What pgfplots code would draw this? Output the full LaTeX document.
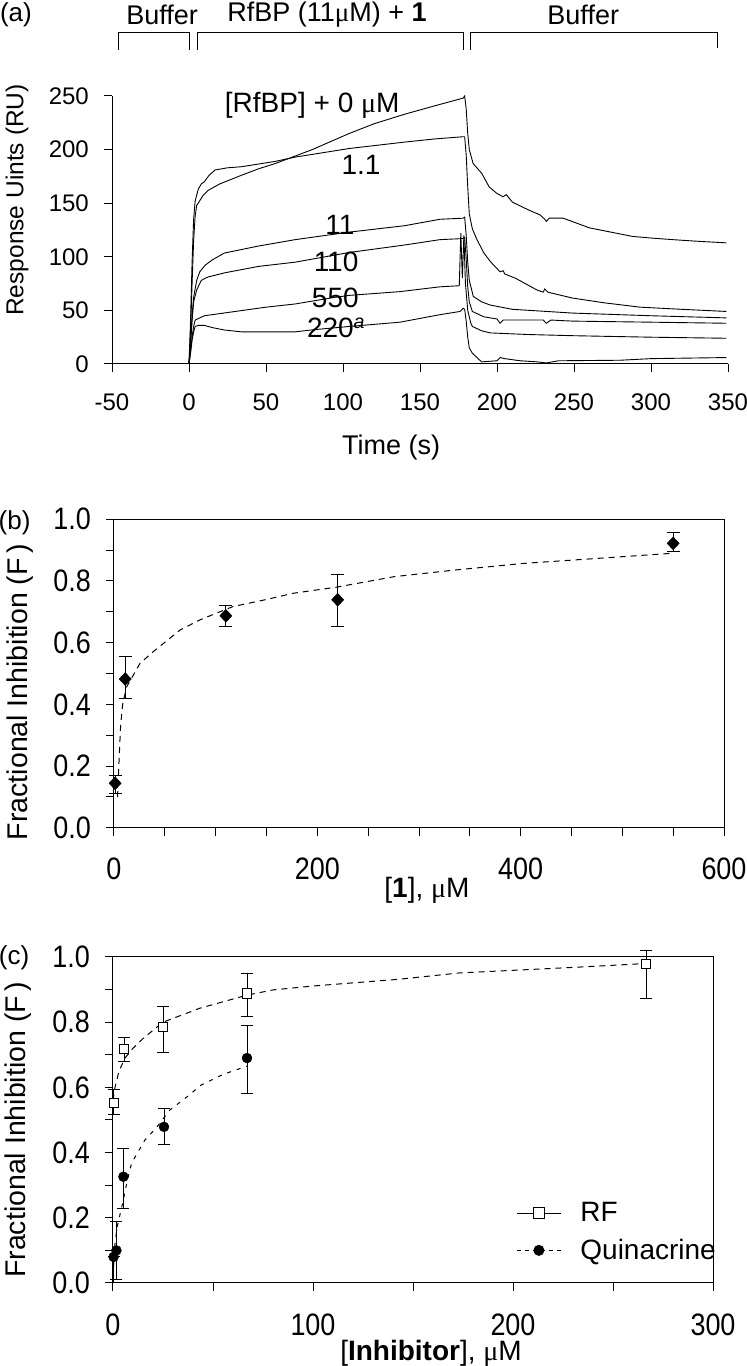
\documentclass[border=0pt]{standalone}
\usepackage{pgfplots}
\pgfplotsset{compat=1.18}
\usepackage{fontspec}
\setmainfont{Liberation Sans}
\newfontfamily\tickfont[FakeStretch=0.87]{Liberation Sans}
\newfontfamily\greekfont{Liberation Serif}
\newcommand\um{{\greekfont μ}}
\newcommand\fs[1]{\fontsize{#1pt}{#1pt}\selectfont}
\pgfplotsset{
  common/.style={
    scale only axis, clip=false,
    axis line style={-, line width=1pt},
    tick align=outside, major tick length=8pt, minor tick length=8pt,
    tick style={black, line width=1pt},
    /pgf/number format/assume math mode=true,
    xticklabel style={anchor=north, inner sep=0pt},
    yticklabel style={anchor=east, inner sep=0pt},
    label style={inner sep=0pt},
  },
  curve/.style={black, line width=0.9pt, no marks},
  fit/.style={black, line width=1pt, no marks, dash pattern=on 6pt off 5pt},
}
\begin{document}
\begin{tikzpicture}
\useasboundingbox (0,0) rectangle (747pt,1366pt);
%%%%%%%%%%%%%%%% panel (a)
\begin{axis}[common,
  at={(112pt,1002pt)}, anchor=south west,
  width=616pt, height=268pt,
  xmin=-50, xmax=350, ymin=0, ymax=250,
  axis x line*=bottom, axis y line*=left,
  xtick={-50,0,50,100,150,200,250,300,350}, ytick={0,50,100,150,200,250},
  ticklabel style={font=\fs{24}},
  xticklabel shift=22pt, yticklabel shift=15pt,
  xlabel={Time (s)}, xlabel style={at={(axis description cs:0.453,-0.31)}, anchor=center, font=\fs{27}},
  ylabel={Response Uints (RU)}, ylabel style={at={(axis description cs:-0.154,0.612)}, anchor=center, rotate=0, font=\fs{24.5}},
]
\addplot[curve] coordinates {(0,0)(1,30)(2,75)(3,115)(4,138)(5,148)(6,150)(9,157)(12.5,162)(20,168)(34,176)(45,182)(56,187)(69,194)(80,200)(104,215)(120,224)(140,233)(160,241)(178,248)(179,250)(180,238)(181,215)(182,200)(184.5,187)(190,178)(195,165)(200,159)(204,156)(206,158)(210,151)(220,144)(228,139)(231,135)(232,133)(234,136)(243,136)(260,127)(288,119)(300,117.5)(314,116)(330,114.5)(349,113)};
\addplot[curve] coordinates {(0,0)(1,40)(2,95)(3,135)(4,152)(6,163)(8,168)(10,170)(13,176)(17,181)(25,183)(34,184)(56,189)(69,193)(104,201)(140,207)(160,210)(178,212)(179,212)(180,195)(181,165)(182,140)(184,126)(187,116)(191.5,103.5)(196,95)(202,86)(204,87)(205,84)(212,80)(226,69)(230,67)(231,70)(233,67)(249,61.5)(270,57)(293,53)(320,51)(349,49)};
\addplot[curve] coordinates {(0,0)(1,20)(2,45)(3,62)(5,78)(7,86)(10.4,92)(15,97)(23,103.5)(45,110)(69,116)(104,123)(140,129)(163,135)(178,136)(179,137)(180,120)(181,95)(182,78)(184.6,63)(190,58)(195.5,55)(210,51)(249,47.5)(300,45)(349,43)};
\addplot[curve] coordinates {(0,0)(1,18)(2,40)(3,58)(5,69)(8,78)(12,81)(23,85)(45,91)(69,95)(104,104)(140,111)(163,116)(178,117)(179,118)(180,98)(181,72)(182,58)(184,49)(191.5,44)(200,42)(202,38)(204,41)(230,41)(232,38)(235,41)(249,40)(300,39)(349,38)};
\addplot[curve] coordinates {(0,0)(1,12)(2,25)(3,35)(4,41)(10,45)(30,49)(50,53)(69,56)(94,62)(104,64)(137,67.5)(163,72)(175.5,73)(176.5,122)(177.5,80)(178.5,120)(179.5,75)(181,50)(183,38)(184,35)(190,31)(195.5,29)(220,27.5)(249,26.4)(300,25)(349,24)};
\addplot[curve] coordinates {(0,0)(1,10)(2,22)(3,30)(4,35)(6,36)(10,36)(15,34)(23,31.7)(34,30)(69,30)(81,32)(104,35)(137,39)(163,46)(176,49)(178,52)(179,51)(180,40)(181,25)(182,15)(184,10)(190,2)(200,3)(202,6)(205,5)(215,3)(226,2)(232,1)(240,3)(280,3.5)(300,5)(349,6)};
% curve labels
\node[font=\fs{28}] at (axis cs:80,241.6) {[RfBP] + 0 \um M};
\node[font=\fs{28}] at (axis cs:111.7,185.6) {1.1};
\node[font=\fs{28}] at (axis cs:98,129.7) {11};
\node[font=\fs{28}] at (axis cs:95.5,95.4) {110};
\node[font=\fs{28}] at (axis cs:95,61.5) {550};
\node[font=\fs{28}] at (axis cs:95.5,33.6) {220\textsuperscript{\itshape a}};
% injection brackets
\draw[line width=1pt] (axis cs:-46.1,293) -- (axis cs:-46.1,308.8) -- (axis cs:0.6,308.8) -- (axis cs:0.6,293);
\draw[line width=1pt] (axis cs:5.8,293) -- (axis cs:5.8,308.8) -- (axis cs:178,308.8) -- (axis cs:178,293);
\draw[line width=1pt] (axis cs:182.5,293) -- (axis cs:182.5,308.8) -- (axis cs:343,308.8) -- (axis cs:343,295);
\node[font=\fs{27}] at (axis cs:-17.5,325.6) {Buffer};
\node[font=\fs{27}] at (axis cs:89.6,325.6) {RfBP (11\um M) + \textbf{1}};
\node[font=\fs{27}] at (axis cs:256,325.6) {Buffer};
\node[font=\fs{26}] at (axis description cs:-0.156,1.302) {(a)};
\end{axis}
%%%%%%%%%%%%%%%% panel (b)
\begin{axis}[common,
  at={(114pt,538.3pt)}, anchor=south west,
  width=610pt, height=308.4pt,
  xmin=0, xmax=600, ymin=0, ymax=1,
  xtick={0,200,400,600}, minor xtick={50,100,150,250,300,350,450,500,550},
  ytick={0,0.2,0.4,0.6,0.8,1}, minor ytick={0.1,0.3,0.5,0.7,0.9},
  xtick pos=left, ytick pos=left,
  ticklabel style={font=\tickfont\fs{31}},
  yticklabel style={/pgf/number format/.cd, fixed, fixed zerofill, precision=1},
  xticklabel shift=22pt, yticklabel shift=15pt,
  xlabel={[\textbf{1}], \um M}, xlabel style={at={(axis description cs:0.513,-0.202)}, anchor=center, font=\fs{28}},
  ylabel={Fractional Inhibition (F\,)}, ylabel style={at={(axis description cs:-0.154,0.44)}, anchor=center, font=\fs{28.5}},
]
\addplot[fit] coordinates {(3.5,0.10)(5,0.22)(6.5,0.33)(8.5,0.40)(12.5,0.457)(25.6,0.533)(38.7,0.571)(65,0.641)(84.6,0.674)(117,0.717)(150,0.74)(176,0.76)(219,0.78)(275.6,0.814)(337,0.836)(403,0.857)(479,0.874)(550,0.89)};
\addplot[black, only marks, mark=diamond*, mark size=6.5pt, mark options={xscale=1.25},
  error bars/.cd, y dir=both, y explicit,
  error bar style={line width=1pt, black},
  error mark options={rotate=90, mark size=6.5pt, line width=1pt, black}]
  coordinates {
  (1.1,0.144) += (0,0.025) -= (0,0.032)
  (11,0.482) += (0,0.073) -= (0,0.062)
  (110,0.687) += (0,0.032) -= (0,0.035)
  (220,0.739) += (0,0.081) -= (0,0.087)
  (550,0.922) += (0,0.035) -= (0,0.027)
  };
\node[font=\fs{26}] at (axis description cs:-0.163,0.988) {(b)};
\end{axis}
%%%%%%%%%%%%%%%% panel (c)
\begin{axis}[common,
  at={(113pt,83pt)}, anchor=south west,
  width=600pt, height=326pt,
  xmin=0, xmax=300, ymin=0, ymax=1,
  xtick={0,100,200,300}, minor xtick={50,150,250},
  ytick={0,0.2,0.4,0.6,0.8,1}, minor ytick={0.1,0.3,0.5,0.7,0.9},
  xtick pos=left, ytick pos=left,
  ticklabel style={font=\tickfont\fs{31}},
  yticklabel style={/pgf/number format/.cd, fixed, fixed zerofill, precision=1},
  xticklabel shift=23pt, yticklabel shift=15pt,
  xlabel={[\textbf{Inhibitor}], \um M}, xlabel style={at={(axis description cs:0.53,-0.215)}, anchor=center, font=\fs{28}},
  ylabel={Fractional Inhibition (F\,)}, ylabel style={at={(axis description cs:-0.158,0.47)}, anchor=center, font=\fs{28.5}},
  legend image code/.code={\draw[mark repeat=2,mark phase=2,#1] plot coordinates {(0pt,0pt) (22pt,0pt) (44pt,0pt)};},
  legend cell align=left,
  legend style={at={(axis description cs:0.672,0.1565)}, anchor=west, draw=none, fill=none,
    inner sep=0pt, font=\fs{28}, row sep=16pt, nodes={inner xsep=10pt, inner ysep=0pt}},
]
\addlegendimage{black, line width=1pt, solid, mark=square*, mark size=5.5pt, mark options={fill=white, solid}}
\addlegendimage{black, line width=1pt, dash pattern=on 4pt off 4pt, mark=*, mark size=5pt, mark options={solid}}
\legend{\hspace{9pt}RF, \hspace{9pt}Quinacrine}
\addplot[fit] coordinates {(0,0.56)(1,0.60)(3,0.65)(6,0.69)(10,0.72)(15,0.75)(25,0.80)(43.5,0.843)(67,0.883)(80,0.899)(100,0.911)(143.5,0.932)(173,0.951)(233,0.969)(266.5,0.98)};
\addplot[black, line width=1pt, no marks, dash pattern=on 4pt off 6pt] coordinates {(0.3,0.05)(1,0.12)(2,0.17)(3.5,0.21)(5,0.25)(7,0.31)(9.3,0.368)(16,0.439)(21.5,0.475)(28.5,0.531)(37,0.571)(44,0.607)(55,0.64)(67,0.665)};
\addplot[black, only marks, mark=square*, mark size=4.7pt, mark options={fill=white, line width=1pt},
  error bars/.cd, y dir=both, y explicit,
  error bar style={line width=1pt, black},
  error mark options={rotate=90, mark size=6pt, line width=1pt, black}]
  coordinates {
  (0.5,0.553) += (0,0.04) -= (0,0.035)
  (5.5,0.717) += (0,0.036) -= (0,0.038)
  (25,0.785) += (0,0.062) -= (0,0.078)
  (67,0.888) += (0,0.061) -= (0,0.072)
  (266.5,0.978) += (0,0.042) -= (0,0.104)
  };
\addplot[black, only marks, mark=*, mark size=5pt,
  error bars/.cd, y dir=both, y explicit,
  error bar style={line width=1pt, black},
  error mark options={rotate=90, mark size=6pt, line width=1pt, black}]
  coordinates {
  (0.3,0.08) += (0,0.0) -= (0,0.08)
  (1.7,0.10) += (0,0.09) -= (0,0.09)
  (5.2,0.326) += (0,0.087) -= (0,0.097)
  (25.5,0.479) += (0,0.057) -= (0,0.053)
  (67,0.69) += (0,0.101) -= (0,0.108)
  };
\node[font=\fs{26}] at (axis description cs:-0.165,0.997) {(c)};
\end{axis}
\end{tikzpicture}
\end{document}
